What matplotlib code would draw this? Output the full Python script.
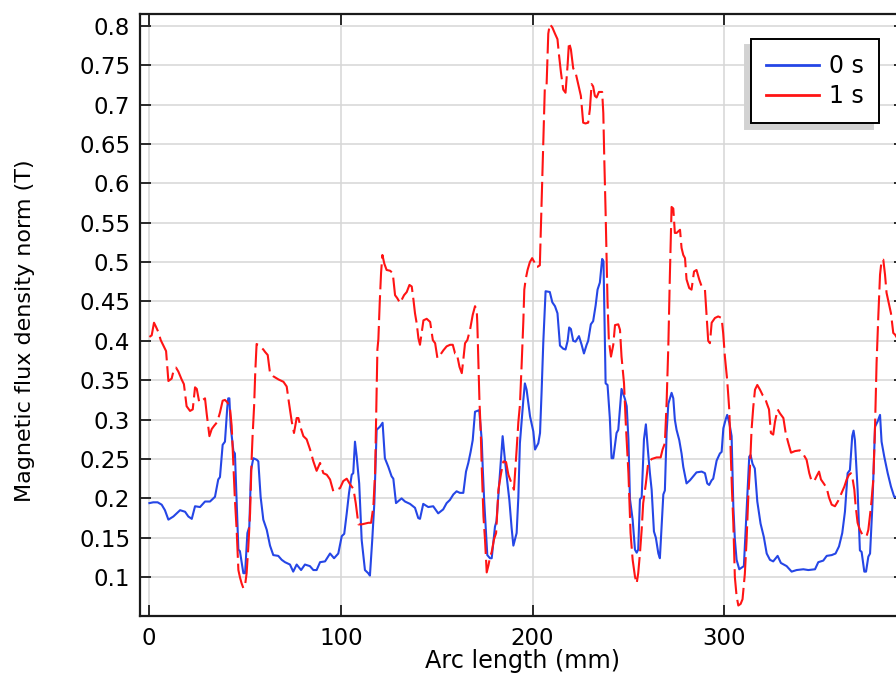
import matplotlib
matplotlib.use("Agg")
import matplotlib.pyplot as plt
from matplotlib.lines import Line2D
from matplotlib.ticker import FuncFormatter

# ---------------- data ----------------
arc_0s = [0.2, 2.2, 4.5, 6.6, 8.3, 10.1, 12.7, 16.2, 18.8, 20.5, 22.3, 24.0, 26.6, 29.2, 31.8,
          34.4, 36.1, 37.0, 38.4, 39.6, 40.8, 41.3, 41.9, 42.6, 44.0, 44.8, 45.7, 46.6, 47.4,
          49.2, 50.1, 51.3, 52.3, 53.2, 54.4, 56.2, 57.0, 58.2, 59.6, 61.4, 63.1, 64.8, 67.4,
          69.2, 70.9, 73.5, 75.2, 77.0, 79.3, 81.3, 83.9, 85.7, 87.4, 89.2, 91.8, 94.4, 96.5,
          98.7, 100.5, 101.8, 103.1, 104.3, 105.7, 106.5, 107.4, 108.3, 109.6, 110.9, 112.6,
          114.3, 115.2, 116.4, 117.5, 118.7, 120.4, 121.8, 123.0, 124.8, 126.5, 127.4, 128.8,
          131.7, 133.5, 136.1, 138.7, 140.4, 141.3, 143.0, 145.6, 148.2, 150.8, 153.4, 155.2,
          156.9, 158.7, 160.4, 162.1, 163.9, 165.3, 166.5, 167.7, 168.8, 170.0, 172.2, 173.5,
          174.0, 174.8, 176.4, 177.8, 178.7, 180.4, 181.2, 182.6, 184.4, 185.6, 186.5, 187.9,
          189.1, 190.0, 191.7, 192.6, 193.4, 195.2, 196.0, 196.9, 198.7, 200.4, 201.3, 203.0,
          203.9, 204.7, 205.6, 206.8, 209.0, 210.3, 211.7, 213.0, 214.3, 216.0, 217.2, 218.3,
          219.1, 220.0, 221.2, 222.4, 224.2, 225.6, 226.8, 228.2, 229.0, 230.4, 231.6, 232.9,
          233.9, 235.1, 236.3, 237.0, 238.1, 239.1, 240.3, 241.2, 242.1, 243.8, 244.7, 246.4,
          248.2, 249.1, 250.0, 250.8, 252.2, 253.4, 254.3, 255.1, 256.0, 256.9, 258.1, 259.1,
          260.3, 261.2, 262.1, 263.3, 264.3, 265.6, 266.4, 267.3, 268.2, 269.0, 269.9, 270.8,
          272.5, 273.4, 274.2, 275.1, 276.5, 277.7, 278.6, 280.3, 282.1, 283.8, 285.5, 288.2,
          289.9, 291.1, 292.1, 293.4, 294.2, 296.0, 297.7, 298.6, 299.5, 300.8, 301.5, 302.6,
          303.8, 304.7, 305.5, 306.4, 307.8, 309.0, 310.2, 311.3, 312.0, 313.0, 313.7, 314.7,
          315.9, 317.2, 318.9, 320.6, 322.1, 323.8, 325.5, 327.8, 329.5, 332.5, 335.1, 337.7,
          341.2, 343.8, 347.3, 349.0, 351.6, 353.4, 356.0, 358.0, 359.8, 361.5, 362.9, 364.3,
          365.5, 366.7, 367.4, 368.1, 369.5, 370.7, 371.6, 373.0, 373.9, 375.1, 376.0, 377.2,
          378.6, 380.0, 381.2, 382.0, 383.4, 385.2, 386.9, 388.6, 389.5, 392.0, 394.5]
B_0s = [0.194, 0.195, 0.195, 0.192, 0.185, 0.173, 0.177, 0.185, 0.183, 0.177, 0.174, 0.190, 0.189,
        0.196, 0.196, 0.202, 0.224, 0.227, 0.268, 0.272, 0.315, 0.327, 0.327, 0.291, 0.260, 0.257,
        0.194, 0.135, 0.133, 0.105, 0.105, 0.156, 0.164, 0.236, 0.251, 0.249, 0.247, 0.202, 0.173,
        0.160, 0.140, 0.128, 0.127, 0.122, 0.119, 0.116, 0.107, 0.116, 0.109, 0.116, 0.114, 0.109,
        0.109, 0.119, 0.120, 0.130, 0.124, 0.130, 0.152, 0.155, 0.181, 0.207, 0.230, 0.232, 0.272,
        0.253, 0.219, 0.147, 0.109, 0.105, 0.102, 0.147, 0.194, 0.287, 0.291, 0.296, 0.251, 0.240,
        0.228, 0.225, 0.194, 0.200, 0.196, 0.193, 0.188, 0.175, 0.174, 0.193, 0.189, 0.190, 0.181,
        0.186, 0.194, 0.198, 0.205, 0.209, 0.207, 0.207, 0.234, 0.245, 0.259, 0.274, 0.310, 0.312,
        0.274, 0.240, 0.196, 0.128, 0.124, 0.124, 0.164, 0.171, 0.219, 0.279, 0.249, 0.228, 0.198,
        0.162, 0.140, 0.156, 0.202, 0.270, 0.325, 0.346, 0.338, 0.304, 0.285, 0.262, 0.270, 0.283,
        0.334, 0.398, 0.463, 0.462, 0.449, 0.444, 0.435, 0.394, 0.390, 0.389, 0.400, 0.417, 0.415,
        0.400, 0.399, 0.406, 0.395, 0.384, 0.395, 0.400, 0.421, 0.425, 0.445, 0.465, 0.474, 0.504,
        0.501, 0.346, 0.344, 0.302, 0.251, 0.251, 0.283, 0.287, 0.339, 0.326, 0.317, 0.275, 0.199,
        0.173, 0.135, 0.131, 0.135, 0.199, 0.201, 0.275, 0.294, 0.257, 0.232, 0.211, 0.158, 0.150,
        0.130, 0.124, 0.165, 0.205, 0.210, 0.283, 0.320, 0.334, 0.327, 0.300, 0.287, 0.274, 0.257,
        0.240, 0.219, 0.223, 0.228, 0.233, 0.234, 0.232, 0.219, 0.217, 0.223, 0.225, 0.248, 0.257,
        0.259, 0.289, 0.301, 0.306, 0.296, 0.279, 0.190, 0.148, 0.122, 0.110, 0.112, 0.114, 0.168,
        0.202, 0.253, 0.255, 0.244, 0.238, 0.196, 0.168, 0.151, 0.130, 0.122, 0.120, 0.127, 0.118,
        0.114, 0.107, 0.109, 0.110, 0.109, 0.110, 0.119, 0.121, 0.127, 0.128, 0.130, 0.139, 0.156,
        0.183, 0.232, 0.236, 0.279, 0.286, 0.274, 0.211, 0.134, 0.132, 0.107, 0.107, 0.126, 0.130,
        0.190, 0.291, 0.298, 0.306, 0.272, 0.253, 0.232, 0.215, 0.202, 0.202, 0.200, 0.200]

arc_1s = [0.2, 1.4, 2.6, 3.6, 4.9, 6.1, 7.5, 8.9, 10.1, 11.8, 12.7, 14.1, 15.3, 17.0, 18.2, 19.6,
          21.4, 22.8, 24.0, 24.9, 26.2, 27.5, 29.2, 30.1, 31.5, 32.7, 33.9, 35.6, 37.0, 38.4,
          39.6, 40.8, 42.2, 43.1, 44.0, 44.8, 45.7, 46.6, 47.4, 48.3, 49.2, 50.1, 50.9, 51.8,
          52.7, 53.5, 54.0, 54.8, 55.4, 56.1, 57.5, 59.6, 60.5, 61.9, 63.1, 64.8, 67.5, 70.1,
          71.8, 73.0, 74.4, 75.6, 77.0, 77.9, 79.3, 80.5, 82.2, 84.0, 85.7, 87.4, 89.2, 90.9,
          92.7, 94.4, 96.1, 97.9, 99.6, 101.3, 103.1, 104.8, 106.6, 107.8, 109.2, 110.9, 112.6,
          114.4, 115.8, 117.0, 117.9, 118.4, 119.1, 119.6, 120.3, 121.0, 121.7, 122.7, 123.9,
          125.7, 127.1, 128.3, 129.5, 130.9, 133.0, 134.4, 135.8, 137.0, 137.9, 138.7, 139.6,
          140.5, 141.3, 142.2, 143.1, 144.8, 146.6, 148.0, 149.2, 150.4, 151.8, 153.5, 155.2,
          157.0, 158.4, 159.6, 160.5, 161.9, 163.1, 163.9, 164.8, 166.0, 167.4, 168.8, 170.0,
          170.9, 171.2, 171.8, 172.3, 173.0, 173.5, 174.4, 175.2, 176.1, 177.0, 177.8, 178.7,
          179.9, 181.0, 182.2, 183.6, 184.8, 186.2, 187.4, 188.6, 190.3, 191.7, 192.6, 193.4,
          194.3, 195.2, 195.7, 196.4, 197.4, 198.6, 199.8, 200.9, 201.6, 202.6, 203.8, 204.7,
          205.6, 206.4, 207.3, 208.2, 209.0, 210.3, 211.7, 213.0, 213.7, 214.8, 216.0, 217.2,
          218.3, 219.0, 220.0, 221.2, 222.4, 223.8, 225.2, 226.4, 227.6, 229.0, 229.9, 230.8,
          231.6, 232.5, 233.4, 234.6, 235.6, 236.3, 236.9, 237.4, 238.1, 238.6, 239.1, 239.8,
          240.9, 242.1, 243.0, 244.7, 245.6, 246.4, 247.7, 248.7, 250.0, 251.1, 252.2, 253.4,
          254.3, 255.1, 256.0, 256.9, 257.7, 259.1, 260.3, 262.1, 264.7, 266.8, 267.8, 269.0,
          269.9, 270.8, 271.6, 272.5, 273.4, 274.2, 275.1, 276.9, 277.7, 278.6, 279.5, 280.3,
          281.7, 282.9, 284.2, 285.5, 286.9, 288.2, 289.9, 290.8, 291.6, 292.5, 293.4, 295.1,
          296.8, 298.6, 299.4, 300.3, 301.5, 302.6, 303.3, 304.0, 304.7, 305.5, 306.4, 307.3,
          308.5, 309.5, 310.7, 311.6, 312.5, 313.4, 314.2, 315.1, 316.0, 317.2, 318.6, 320.0,
          321.2, 322.1, 323.3, 324.3, 325.5, 326.4, 327.8, 329.0, 330.8, 332.0, 333.4, 334.8,
          336.8, 339.4, 341.2, 342.9, 344.3, 345.5, 346.9, 348.1, 349.4, 350.4, 352.1, 353.4,
          354.6, 356.0, 357.7, 359.4, 361.2, 362.6, 363.8, 365.0, 366.0, 366.7, 367.8, 368.5,
          369.5, 370.7, 372.0, 373.3, 374.2, 375.1, 376.5, 377.7, 378.6, 379.4, 380.3, 381.2,
          382.0, 382.9, 383.8, 384.6, 385.9, 386.9, 388.1, 389.0, 391.0, 394.5]
B_1s = [0.405, 0.407, 0.423, 0.418, 0.411, 0.401, 0.394, 0.387, 0.349, 0.352, 0.361, 0.366, 0.361,
        0.351, 0.345, 0.317, 0.311, 0.313, 0.341, 0.339, 0.322, 0.324, 0.327, 0.307, 0.279, 0.288,
        0.292, 0.297, 0.309, 0.324, 0.325, 0.322, 0.315, 0.292, 0.241, 0.198, 0.160, 0.109, 0.100,
        0.092, 0.086, 0.090, 0.105, 0.139, 0.181, 0.249, 0.279, 0.317, 0.360, 0.396, 0.394, 0.389,
        0.386, 0.382, 0.359, 0.355, 0.351, 0.348, 0.342, 0.321, 0.298, 0.283, 0.302, 0.302, 0.288,
        0.279, 0.275, 0.262, 0.247, 0.235, 0.245, 0.232, 0.230, 0.224, 0.209, 0.211, 0.213, 0.222,
        0.225, 0.218, 0.212, 0.194, 0.167, 0.167, 0.168, 0.169, 0.169, 0.190, 0.233, 0.296, 0.389,
        0.402, 0.448, 0.486, 0.509, 0.498, 0.490, 0.489, 0.486, 0.458, 0.454, 0.448, 0.458, 0.462,
        0.471, 0.469, 0.452, 0.435, 0.422, 0.403, 0.395, 0.411, 0.426, 0.428, 0.424, 0.401, 0.397,
        0.378, 0.382, 0.388, 0.393, 0.395, 0.395, 0.384, 0.384, 0.367, 0.359, 0.376, 0.397, 0.401,
        0.414, 0.433, 0.444, 0.439, 0.422, 0.367, 0.325, 0.283, 0.240, 0.177, 0.148, 0.106, 0.115,
        0.125, 0.132, 0.148, 0.156, 0.211, 0.232, 0.247, 0.246, 0.230, 0.222, 0.211, 0.262, 0.297,
        0.318, 0.369, 0.425, 0.465, 0.478, 0.490, 0.500, 0.505, 0.500, 0.494, 0.494, 0.496, 0.573,
        0.652, 0.721, 0.723, 0.790, 0.802, 0.798, 0.790, 0.783, 0.765, 0.741, 0.719, 0.715, 0.751,
        0.779, 0.770, 0.746, 0.741, 0.726, 0.711, 0.677, 0.676, 0.677, 0.694, 0.726, 0.723, 0.711,
        0.709, 0.716, 0.716, 0.716, 0.689, 0.632, 0.563, 0.504, 0.450, 0.400, 0.380, 0.395, 0.420,
        0.421, 0.414, 0.380, 0.346, 0.291, 0.232, 0.156, 0.122, 0.101, 0.092, 0.105, 0.130, 0.160,
        0.194, 0.219, 0.245, 0.250, 0.252, 0.252, 0.262, 0.270, 0.321, 0.393, 0.482, 0.570, 0.568,
        0.537, 0.537, 0.541, 0.518, 0.509, 0.505, 0.478, 0.467, 0.465, 0.488, 0.490, 0.478, 0.469,
        0.465, 0.431, 0.400, 0.397, 0.423, 0.429, 0.431, 0.429, 0.410, 0.380, 0.350, 0.312, 0.261,
        0.210, 0.168, 0.100, 0.076, 0.064, 0.066, 0.072, 0.104, 0.146, 0.202, 0.240, 0.287, 0.316,
        0.338, 0.344, 0.338, 0.331, 0.328, 0.321, 0.313, 0.283, 0.281, 0.297, 0.313, 0.308, 0.302,
        0.283, 0.270, 0.258, 0.260, 0.261, 0.256, 0.249, 0.232, 0.222, 0.222, 0.228, 0.234, 0.224,
        0.218, 0.213, 0.201, 0.192, 0.190, 0.197, 0.207, 0.215, 0.224, 0.230, 0.232, 0.228, 0.211,
        0.190, 0.169, 0.160, 0.154, 0.152, 0.152, 0.160, 0.190, 0.224, 0.292, 0.372, 0.431, 0.484,
        0.502, 0.503, 0.484, 0.461, 0.446, 0.435, 0.410, 0.408, 0.400, 0.390]

series_labels = ["0 s", "1 s"]
x_ticks = [0, 100, 200, 300]
y_ticks = [0.1, 0.15, 0.2, 0.25, 0.3, 0.35, 0.4, 0.45, 0.5, 0.55, 0.6, 0.65, 0.7, 0.75, 0.8]
x_label = "Arc length (mm)"
y_label = "Magnetic flux density norm (T)"

# ---------------- style ----------------
plt.rcParams['font.family'] = ['DejaVu Sans']
FS_TICK = 16.5
FS_XLAB = 17.2
FS_YLAB = 16.0
FS_LEG = 17.0
BLUE = '#2546e6'
RED = '#ff1414'

fig = plt.figure(figsize=(8.96, 6.75), dpi=100)
ax = fig.add_axes([0.15625, 0.0878, 1.01 - 0.15625, 0.9793 - 0.0878])

ax.plot(arc_0s, B_0s, color=BLUE, lw=1.5, solid_joinstyle='round', zorder=3)
ax.plot(arc_1s, B_1s, color=RED, lw=1.5, linestyle=(0, (12, 2.8)), zorder=3)

ax.set_xlim(-4.7, 394.2)
ax.set_ylim(0.051, 0.815)
ax.set_xticks(x_ticks)
ax.set_yticks(y_ticks)
ax.yaxis.set_major_formatter(FuncFormatter(lambda v, p: f"{v:g}"))
ax.grid(True, color='#d6d6d6', lw=1.1, zorder=0)
ax.set_axisbelow(True)

ax.tick_params(axis='both', which='major', direction='in', length=8, width=1.3,
               labelsize=FS_TICK, top=True, right=True, color='#1a1a1a')
ax.tick_params(axis='y', pad=7)
ax.tick_params(axis='x', pad=8)
for s in ax.spines.values():
    s.set_linewidth(1.6)
    s.set_color('#1a1a1a')

ax.set_xlabel(x_label, fontsize=FS_XLAB)
ax.xaxis.set_label_coords(0.5, -0.055)
ax.set_ylabel(y_label, fontsize=FS_YLAB)
ax.yaxis.set_label_coords(-0.137, 0.473)

handles = [Line2D([], [], color=BLUE, lw=2.0), Line2D([], [], color=RED, lw=2.0)]
leg = ax.legend(handles, series_labels, loc='upper right', bbox_to_anchor=(0.966, 0.958),
                borderaxespad=0, fontsize=FS_LEG, fancybox=False, framealpha=1,
                edgecolor='black', handlelength=2.25, handletextpad=0.45,
                labelspacing=0.28, borderpad=0.62,
                shadow={'ox': -4, 'oy': -4.5, 'color': '#d2d2d2', 'alpha': 1})
leg.get_frame().set_linewidth(1.4)

fig.savefig('out.png', dpi=100)
